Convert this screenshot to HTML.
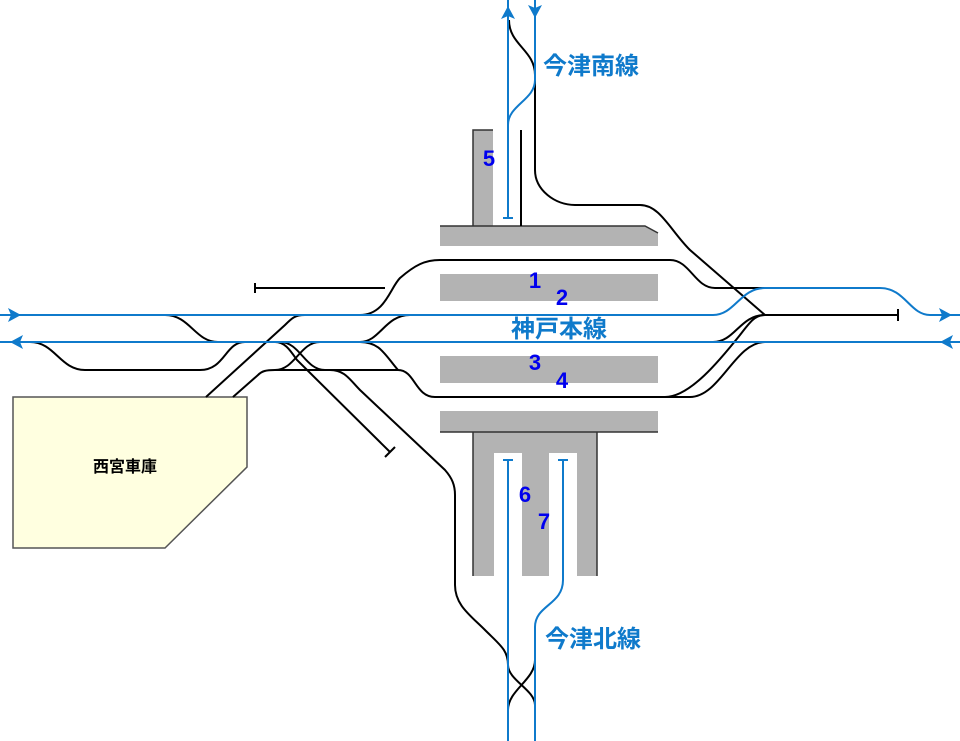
<!DOCTYPE html>
<html><head><meta charset="utf-8"><style>
html,body{margin:0;padding:0;background:#fff;}
svg{display:block;}
</style></head><body>
<svg width="960" height="741" viewBox="0 0 960 741" xmlns="http://www.w3.org/2000/svg">
<!-- platforms -->
<g fill="#b3b3b3">
<rect x="473" y="130" width="20" height="96"/>
<path d="M440,226 H645 L658,233 V246 H440 Z"/>
<rect x="440" y="274" width="218" height="27"/>
<rect x="440" y="356" width="218" height="27"/>
<rect x="440" y="411" width="218" height="21"/>
<path d="M473,432 H597 V576 H577 V453 H549 V576 H522 V453 H494 V576 H473 Z"/>
</g>
<g fill="none" stroke="#333" stroke-width="1.5">
<path d="M473,226 V130 H493"/>
<path d="M440,226 H645 L658,233"/>
<path d="M440,432 H658"/>
<path d="M473,432 V576 M597,432 V576"/>
</g>
<!-- depot -->
<path d="M13,397 H247 V467 L165,548 H13 Z" fill="#ffffe0" stroke="#555" stroke-width="1.5"/>
<text x="125" y="472" font-family="Liberation Sans, Noto Sans CJK JP, sans-serif" font-size="16" font-weight="bold" text-anchor="middle" fill="#000">西宮車庫</text>

<!-- black tracks -->
<g fill="none" stroke="#000" stroke-width="2">
<path d="M521,130 V226"/>
<path d="M509,20 C509,45 535,50 535,75 V170 C535,190 555,205 575,205 H640 C660,205 670,230 690,250 L765,315"/>
<path d="M255,288 H385"/>
<path d="M360,315 C385,315 390,288 400,278 C415,265 425,260 440,260 H670 C690,260 695,288 715,288 H765"/>
<path d="M206,397 L285,325 C292,318 295,315 305,315"/>
<path d="M765,315 H898"/>
<path d="M898,309 V321 M255,283 V293"/>
<path d="M165,315 C190,315 195,342 218,342"/>
<path d="M30,342 C55,342 60,370 85,370 H200 C225,370 225,342 245,342"/>
<path d="M233,397 L258,375 C262,371 266,370 275,370 H398 C415,370 415,397 435,397 H665 C690,397 720,360 740,335 C750,322 755,315 765,315"/>
<path d="M665,397 H690 C720,397 735,342 765,342"/>
<path d="M713,342 C735,342 740,315 765,315"/>
<path d="M360,342 C380,342 385,315 410,315"/>
<path d="M360,342 C380,342 385,355 398,370"/>
<path d="M280,342 C300,342 305,370 325,370"/>
<path d="M320,342 C300,342 295,370 275,370"/>
<path d="M275,342 C285,342 290,350 297,360 L390,452"/>
<path d="M385,457 L395,447"/>
<path d="M330,370 C345,370 350,380 360,390 L445,470 C452,478 455,485 455,495 V585 C455,605 470,615 485,630 C500,645 508,650 508,665 C508,680 535,690 535,705"/>
<path d="M535,660 C535,680 508,690 508,710"/>
</g>

<!-- blue tracks -->
<g fill="none" stroke="#0f7acb" stroke-width="2">
<path d="M0,315 H713 C735,315 740,288 765,288 H880 C905,288 910,315 930,315 H960"/>
<path d="M0,342 H960"/>
<path d="M508,0 V218 M503,218 H513"/>
<path d="M535,0 V80 C535,100 508,105 508,125"/>
<path d="M508,460 V741 M503,460 H513"/>
<path d="M563,460 V580 C563,605 535,605 535,627 V741 M558,460 H568"/>
</g>
<g fill="#0f7acb">
<path d="M21,315 L8,308 L11,315 L8,322 Z"/>
<path d="M952,315 L939,308 L942,315 L939,322 Z"/>
<path d="M10,342 L23,335 L20,342 L23,349 Z"/>
<path d="M940,342 L953,335 L950,342 L953,349 Z"/>
<path d="M508,6 L501,19 L508,16 L515,19 Z"/>
<path d="M535,18 L528,5 L535,8 L542,5 Z"/>
</g>
<g font-family="Liberation Sans, Noto Sans CJK JP, sans-serif" font-weight="bold" font-size="24" fill="#0f7acb">
<text x="543" y="74">今津南線</text>
<text x="511" y="337">神戸本線</text>
<text x="545" y="647">今津北線</text>
</g>
<g font-family="Liberation Sans, sans-serif" font-weight="bold" font-size="22" fill="#0000ee" text-anchor="middle">
<text x="535" y="288">1</text>
<text x="562" y="305">2</text>
<text x="535" y="370">3</text>
<text x="562" y="388">4</text>
<text x="489" y="166">5</text>
<text x="525" y="502">6</text>
<text x="544" y="529">7</text>
</g>
</svg>
</body></html>
